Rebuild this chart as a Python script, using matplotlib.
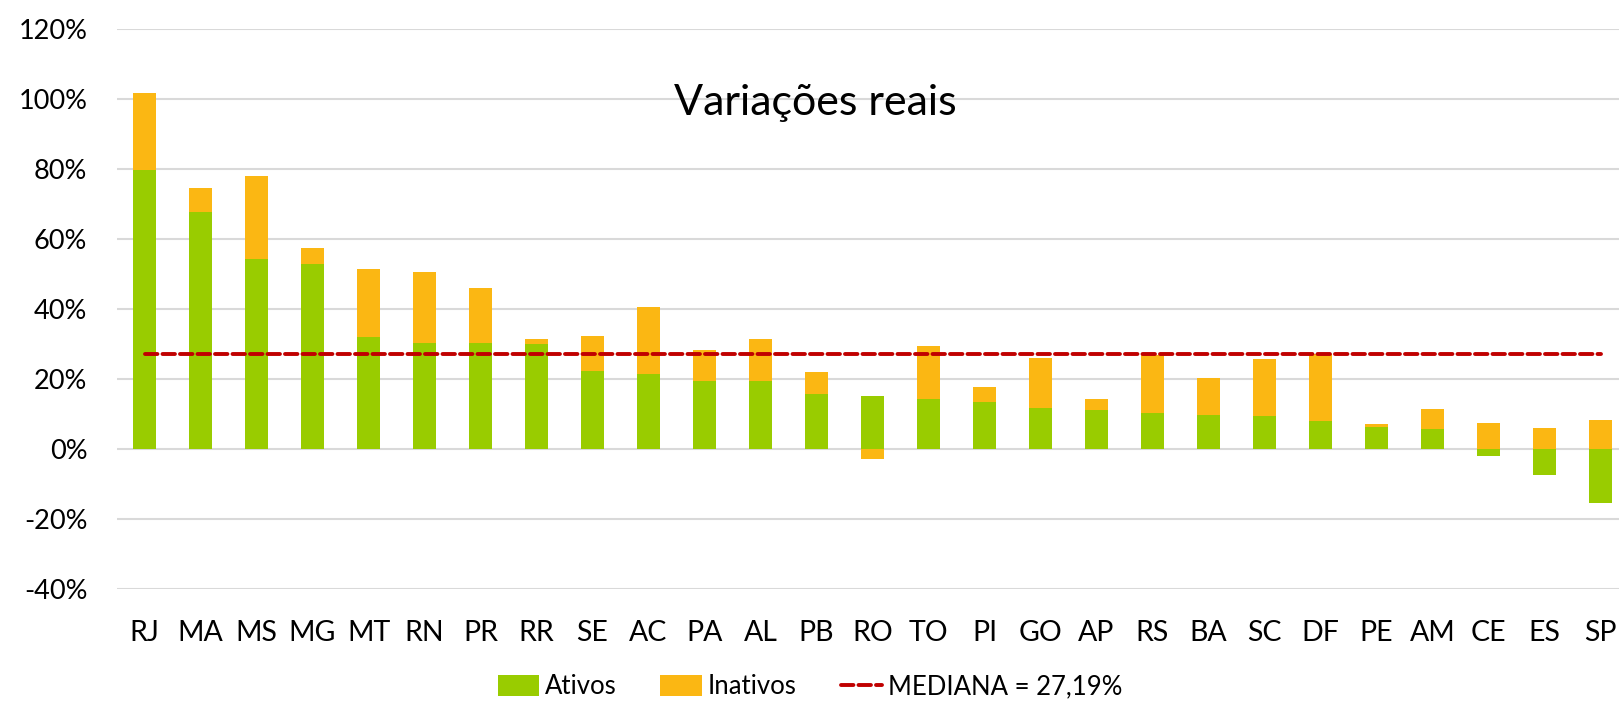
import matplotlib
matplotlib.use("Agg")
import matplotlib.pyplot as plt
from matplotlib.patches import Patch
from matplotlib.lines import Line2D
import numpy as np

estados = ["RJ", "MA", "MS", "MG", "MT", "RN", "PR", "RR", "SE", "AC", "PA", "AL", "PB", "RO",
           "TO", "PI", "GO", "AP", "RS", "BA", "SC", "DF", "PE", "AM", "CE", "ES", "SP"]
ativos = [79.6, 67.7, 54.2, 53.0, 31.9, 30.2, 30.2, 29.9, 22.2, 21.3, 19.3, 19.3, 15.6, 15.2,
          14.3, 13.3, 11.8, 11.1, 10.2, 9.6, 9.3, 7.9, 6.2, 5.7, -2.0, -7.3, -15.5]
inativos = [22.2, 7.0, 23.7, 4.3, 19.4, 20.5, 15.8, 1.5, 10.2, 19.3, 9.1, 12.1, 6.4, -2.8,
            15.1, 4.3, 14.3, 3.1, 16.6, 10.6, 16.3, 19.2, 0.9, 5.7, 7.5, 6.0, 8.2]
mediana = 27.19
yticks = [-40, -20, 0, 20, 40, 60, 80, 100, 120]

GREEN = "#99CC00"
ORANGE = "#FBB713"
RED = "#C00000"
FONT = "Lato"

plt.rcParams["font.family"] = [FONT, "DejaVu Sans"]

W, H = 1619, 701
fig = plt.figure(figsize=(W / 100, H / 100), dpi=100)
left_px, right_px = 116.5, 1628.5
top_px, bot_px = 29, 589
ax = fig.add_axes([left_px / W, 1 - bot_px / H, (right_px - left_px) / W, (bot_px - top_px) / H])

x = np.arange(len(estados))
ativos_a = np.array(ativos)
inativos_a = np.array(inativos)
bottom_in = np.where(np.sign(ativos_a) == np.sign(inativos_a), ativos_a, 0.0)

ax.bar(x, ativos_a, width=0.41, color=GREEN, zorder=2)
ax.bar(x, inativos_a, width=0.41, bottom=bottom_in, color=ORANGE, zorder=2)
ax.plot(x, [mediana] * len(x), color=RED, lw=2.8, linestyle=(0, (3.2, 1.3)),
        dash_capstyle="round", zorder=3)

ax.set_xlim(-0.5, len(x) - 0.5)
ax.set_ylim(-40, 120)
ax.set_yticks(yticks)
ax.set_yticklabels([f"{v}%" for v in yticks], fontsize=19.5)
ax.set_xticks(x)
ax.set_xticklabels(estados, fontsize=20.5)
ax.tick_params(axis="both", length=0)
ax.tick_params(axis="y", pad=21)
ax.tick_params(axis="x", pad=22)
ax.yaxis.grid(True, color="#D9D9D9", lw=1.5, zorder=0)
ax.set_axisbelow(True)
for s in ax.spines.values():
    s.set_visible(False)

fig.text(815 / W, 1 - 103 / H, "Variações reais", fontsize=31, ha="center", va="center")

handles = [Patch(facecolor=GREEN), Patch(facecolor=ORANGE),
           Line2D([0], [0], color=RED, lw=2.8, linestyle=(0, (3.2, 1.3)), dash_capstyle="round")]
fig.legend(handles, ["Ativos", "Inativos", "MEDIANA = 27,19%"], loc="center",
           bbox_to_anchor=(810 / W, 1 - 687 / H), ncol=3, frameon=False, fontsize=18.5,
           handlelength=1.6, handleheight=0.9, columnspacing=1.7, handletextpad=0.25)

fig.savefig("out.png", dpi=100)
